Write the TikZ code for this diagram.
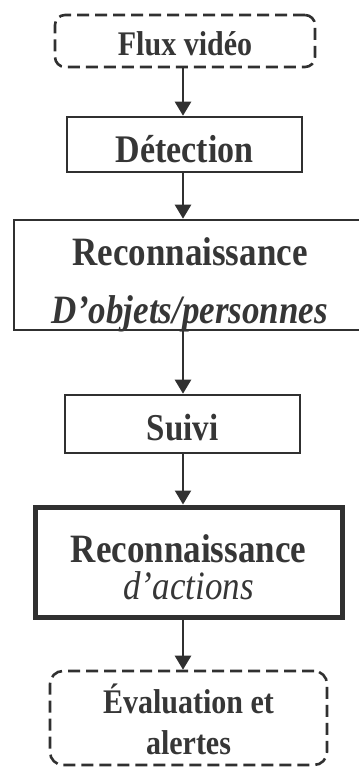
\documentclass[tikz,border=0pt]{standalone}
\usepackage{fontspec}
\setmainfont{Liberation Serif}
\usepackage{graphicx}
\usepackage{tikz}
\usetikzlibrary{arrows.meta, positioning}
\definecolor{inkgray}{HTML}{303030}
\definecolor{textgray}{HTML}{363636}
\newcommand{\tallrows}[1]{\scalebox{1}[1.15]{\begin{tabular}[t]{@{}c@{}}#1\end{tabular}}}

\begin{document}
\begin{tikzpicture}[x=1pt, y=-1pt,
    box/.style={draw=inkgray, line width=2.6pt, inner sep=0pt, text=textgray},
    dashbox/.style={box, rounded corners=10pt, dash pattern=on 12pt off 6pt},
    flowarrow/.style={draw=inkgray, line width=2.4pt, -{Triangle[length=14pt, width=16pt]}}]
    \useasboundingbox (0,0) rectangle (359,769);

    \node[dashbox, minimum width=260pt, minimum height=52pt, text height=28pt, text depth=0pt,
        font=\fontsize{30}{36}\selectfont\bfseries] (flux) at (185,41) {\tallrows{Flux vidéo}};
    \node[box, minimum width=235pt, minimum height=55pt, text height=35pt, text depth=0pt,
        font=\fontsize{34}{41}\selectfont\bfseries] (detect) at (184.5,144.5) {\tallrows{Détection}};
    \node[box, minimum width=352pt, minimum height=110pt, text height=0pt, text depth=20pt,
        font=\fontsize{35}{42}\selectfont\bfseries] (recobj) at (190,275)
        {\tallrows{Reconnaissance\\[9pt] \itshape D’objets/personnes}};
    \node[box, minimum width=235pt, minimum height=58pt, text height=32pt, text depth=0pt,
        font=\fontsize{33}{40}\selectfont\bfseries] (suivi) at (182.5,424) {\tallrows{Suivi}};
    \node[box, line width=5pt, minimum width=307pt, minimum height=110pt, text height=0pt, text depth=0pt,
        font=\fontsize{35}{42}\selectfont\bfseries] (recoact) at (188.5,562)
        {\tallrows{Reconnaissance\\[-9pt] \mdseries\itshape d’actions}};
    \node[dashbox, rounded corners=13pt, minimum width=277pt, minimum height=94pt, text height=0pt, text depth=10pt,
        font=\fontsize{30}{36}\selectfont\bfseries] (eval) at (188.5,718)
        {\tallrows{Évaluation et\\ alertes}};

    \coordinate (spine) at (183,0);
    \draw[flowarrow] (spine |- flux.south) -- (spine |- detect.north);
    \draw[flowarrow] (spine |- detect.south) -- (spine |- recobj.north);
    \draw[flowarrow] (spine |- recobj.south) -- (spine |- suivi.north);
    \draw[flowarrow] (spine |- suivi.south) -- (spine |- recoact.north);
    \draw[flowarrow] (spine |- recoact.south) -- (spine |- eval.north);
\end{tikzpicture}
\end{document}
